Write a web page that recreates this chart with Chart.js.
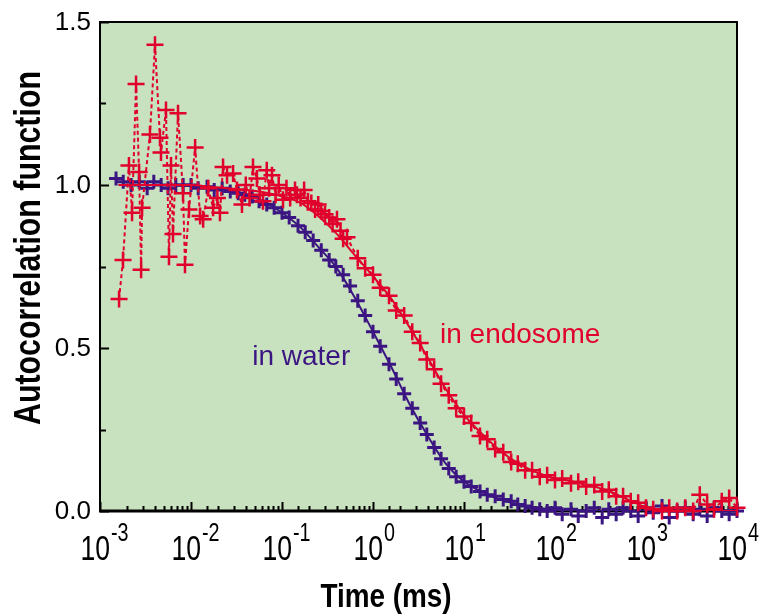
<!DOCTYPE html>
<html>
<head>
<meta charset="utf-8">
<script src="https://cdn.jsdelivr.net/npm/chart.js@4.4.0/dist/chart.umd.min.js"></script>
<style>
  html, body { margin: 0; padding: 0; background: #ffffff; }
  #wrap { width: 777px; height: 614px; }
</style>
</head>
<body>
<div id="wrap"><canvas id="c" width="777" height="614"></canvas></div>
<script>
// lag times (ms) and autocorrelation values
const timesWater = [0.0015, 0.0018, 0.0022, 0.0027, 0.0033, 0.0039, 0.0047, 0.0056, 0.0068, 0.0082,
  0.010, 0.012, 0.015, 0.018, 0.022, 0.027, 0.033, 0.039, 0.047, 0.056, 0.068, 0.082,
  0.10, 0.12, 0.15, 0.18, 0.22, 0.27, 0.33, 0.39, 0.47, 0.56, 0.68, 0.82,
  1.0, 1.2, 1.5, 1.8, 2.2, 2.7, 3.3, 3.9, 4.7, 5.6, 6.8, 8.2,
  10, 12, 15, 18, 22, 27, 33, 39, 47, 56, 68, 82,
  100, 120, 150, 180, 220, 270, 330, 390, 470, 560, 680, 820,
  1000, 1200, 1500, 1800, 2200, 2700, 3300, 3900, 4700, 5600, 6800, 8200, 10000];
const gWater = [1.02, 1.01, 1.00, 1.01, 0.99, 1.01, 1.00, 0.99, 1.00, 1.00,
  1.00, 0.99, 0.995, 0.985, 0.99, 0.98, 0.975, 0.97, 0.965, 0.95, 0.94, 0.93,
  0.915, 0.90, 0.875, 0.855, 0.83, 0.80, 0.77, 0.75, 0.725, 0.69, 0.645, 0.60,
  0.55, 0.505, 0.45, 0.405, 0.36, 0.315, 0.27, 0.235, 0.195, 0.16, 0.13, 0.105,
  0.09, 0.075, 0.06, 0.05, 0.045, 0.035, 0.03, 0.02, 0.015, 0.01, 0.005, 0.0,
  0.01, -0.01, 0.005, -0.015, 0.0, 0.01, -0.02, 0.005, -0.01, 0.01, 0.0, -0.015,
  0.01, -0.005, 0.015, -0.02, 0.0, 0.01, -0.01, 0.005, -0.015, 0.01, 0.0, -0.01, 0.0];

const timesEndo = [0.00162, 0.00179, 0.00208, 0.00225, 0.00249, 0.00269, 0.00283, 0.0029, 0.00354, 0.00402,
  0.00456, 0.00468, 0.00531, 0.00573, 0.00603, 0.00634, 0.0072, 0.00817, 0.00859, 0.0095,
  0.0111, 0.0126, 0.0136, 0.0155, 0.0175, 0.0195, 0.0208, 0.0225, 0.0249, 0.029,
  0.032, 0.0363, 0.040, 0.044, 0.048, 0.053, 0.057, 0.0618, 0.068, 0.072,
  0.0776, 0.085, 0.092, 0.1026, 0.112, 0.123, 0.139, 0.146, 0.16, 0.175,
  0.193, 0.21, 0.231, 0.25, 0.27, 0.297, 0.33, 0.36, 0.402, 0.44, 0.47, 0.518,
  0.68, 0.82, 1.0, 1.2, 1.5, 1.8, 2.2, 2.7, 3.3, 3.9, 4.7, 5.6, 6.8, 8.2,
  10, 12, 15, 18, 22, 27, 33, 39, 47, 56, 68, 82,
  100, 120, 150, 180, 220, 270, 330, 390, 470, 560, 680, 820,
  1000, 1200, 1500, 1800, 2200, 2700, 3300, 3900, 4700, 5600, 6800, 8200, 10000];
const gEndo = [0.65, 0.77, 1.06, 0.915, 1.31, 1.04, 0.74, 0.93, 1.155, 1.43,
  1.145, 1.10, 1.23, 0.78, 1.06, 0.85, 1.22, 0.975, 0.755, 0.925,
  1.115, 0.905, 0.895, 0.99, 0.93, 0.96, 0.915, 1.055, 1.03, 1.035,
  0.985, 0.94, 1.00, 0.96, 1.055, 1.02, 0.97, 0.95, 1.045, 0.99,
  1.03, 0.97, 1.00, 0.955, 0.99, 0.96, 0.985, 0.97, 0.96, 0.985,
  0.95, 0.945, 0.925, 0.94, 0.92, 0.91, 0.90, 0.88, 0.895, 0.86, 0.835, 0.84,
  0.775, 0.745, 0.725, 0.685, 0.66, 0.615, 0.60, 0.55, 0.515, 0.465, 0.435, 0.39, 0.355, 0.315,
  0.29, 0.27, 0.23, 0.22, 0.19, 0.18, 0.15, 0.145, 0.125, 0.125, 0.105, 0.11,
  0.095, 0.10, 0.085, 0.09, 0.075, 0.08, 0.06, 0.065, 0.045, 0.045, 0.03, 0.025,
  0.01, 0.005, 0.0, 0.01, 0.0, 0.01, 0.0, 0.05, 0.02, 0.005, 0.03, 0.04, 0.01];

// fitted curves
const fitTimes = [0.0016, 0.0025, 0.004, 0.0063, 0.01, 0.016, 0.025, 0.04, 0.063, 0.1,
  0.16, 0.25, 0.4, 0.63, 1, 1.6, 2.5, 4, 6.3, 10,
  16, 25, 40, 63, 100, 160, 250, 400, 630, 1000,
  1600, 2500, 4000, 6300, 10000];
const fitWater = [1.0, 1.0, 1.0, 1.0, 0.997, 0.993, 0.985, 0.972, 0.95, 0.915,
  0.87, 0.81, 0.745, 0.655, 0.55, 0.44, 0.33, 0.23, 0.145, 0.09,
  0.058, 0.035, 0.02, 0.01, 0.004, 0.002, 0, 0, 0, 0,
  0, 0, 0, 0, 0];
const fitEndo = [1.0, 1.0, 1.0, 1.0, 1.0, 0.995, 0.99, 0.985, 0.978, 0.965,
  0.945, 0.905, 0.85, 0.785, 0.72, 0.65, 0.565, 0.47, 0.375, 0.295,
  0.235, 0.185, 0.145, 0.118, 0.10, 0.09, 0.077, 0.06, 0.035, 0.012,
  0.004, 0, 0, 0, 0];

// axis ranges
const xMin = 0.001, xMax = 10000;
const yMin = 0, yMax = 1.5, yStep = 0.25;

const PURPLE = '#3b1581';
const RED = '#e1002c';
const BG = '#c8e2bf';
const FONT = '"Liberation Sans", Arial, Helvetica, sans-serif';

// text notes placed at data coordinates
const notes = [
  { text: 'in water', t: 0.047, g: 0.448, color: PURPLE },
  { text: 'in endosome', t: 5.45, g: 0.515, color: RED }
];

function pts(xs, ys) {
  return xs.map((x, i) => ({ x: x, y: ys[i] }));
}

// texte étroit (police type Helvetica Narrow)
function narrowText(ctx, text, x, y, font, sx, align, baseline, rot) {
  ctx.save();
  ctx.translate(x, y);
  if (rot) ctx.rotate(rot);
  ctx.scale(sx, 1);
  ctx.font = font;
  ctx.textAlign = align;
  ctx.textBaseline = baseline;
  ctx.fillText(text, 0, 0);
  ctx.restore();
}

const framePlugin = {
  id: 'frame',
  beforeDraw(chart) {
    const { ctx, chartArea: a } = chart;
    ctx.save();
    ctx.fillStyle = BG;
    ctx.fillRect(a.left, a.top, a.right - a.left, a.bottom - a.top);
    ctx.restore();
  },
  beforeDatasetsDraw(chart) {
    const { ctx, chartArea: a } = chart;
    const xs = chart.scales.x, ys = chart.scales.y;
    ctx.save();
    ctx.strokeStyle = '#000';
    ctx.lineWidth = 2;
    ctx.beginPath();
    // ticks en bas (vers l'intérieur)
    xs.ticks.forEach(t => {
      const lg = Math.log10(t.value);
      const major = Math.abs(lg - Math.round(lg)) < 1e-6;
      const px = Math.round(xs.getPixelForValue(t.value)) + 0.5;
      ctx.moveTo(px, a.bottom);
      ctx.lineTo(px, a.bottom - (major ? 9 : 5));
    });
    // ticks à gauche
    ys.ticks.forEach(t => {
      const major = Math.abs(t.value * 2 - Math.round(t.value * 2)) < 1e-6;
      const py = Math.round(ys.getPixelForValue(t.value)) + 0.5;
      ctx.moveTo(a.left, py);
      ctx.lineTo(a.left + (major ? 9 : 6), py);
    });
    ctx.stroke();
    ctx.strokeRect(a.left, a.top, a.right - a.left, a.bottom - a.top);
    ctx.lineWidth = 3;
    ctx.beginPath();
    ctx.moveTo(a.left - 1, a.bottom);
    ctx.lineTo(a.right + 1, a.bottom);
    ctx.stroke();
    ctx.restore();
  },
  afterDraw(chart) {
    const { ctx, chartArea: a } = chart;
    const xs = chart.scales.x, ys = chart.scales.y;
    ctx.save();
    ctx.fillStyle = '#000';
    // y labels
    ys.ticks.forEach(t => {
      if (Math.abs(t.value * 2 - Math.round(t.value * 2)) > 1e-6) return;
      const py = ys.getPixelForValue(t.value);
      narrowText(ctx, t.value.toFixed(1), a.left - 9, py + 1, '26px ' + FONT, 1, 'right', 'middle');
    });
    // x labels 10^n
    xs.ticks.forEach(t => {
      const lg = Math.log10(t.value);
      if (Math.abs(lg - Math.round(lg)) > 1e-6) return;
      const px = xs.getPixelForValue(t.value);
      narrowText(ctx, '10', px + 10, a.bottom + 49, '35px ' + FONT, 0.76, 'right', 'alphabetic');
      narrowText(ctx, String(Math.round(lg)), px + 11, a.bottom + 30, '26px ' + FONT, 0.76, 'left', 'alphabetic');
    });
    // titres des axes
    narrowText(ctx, 'Time (ms)', 386, 598, 'bold 34px ' + FONT, 0.82, 'center', 'middle');
    narrowText(ctx, 'Autocorrelation function', 30, 248, 'bold 37px ' + FONT, 0.82, 'center', 'middle', -Math.PI / 2);
    // annotations
    notes.forEach(n => {
      ctx.font = '28px ' + FONT;
      ctx.fillStyle = n.color;
      ctx.textAlign = 'left';
      ctx.textBaseline = 'alphabetic';
      ctx.fillText(n.text, xs.getPixelForValue(n.t), ys.getPixelForValue(n.g));
    });
    ctx.restore();
  }
};

new Chart(document.getElementById('c'), {
  type: 'scatter',
  data: {
    datasets: [
      {
        label: 'in endosome (fit)',
        data: pts(fitTimes, fitEndo),
        showLine: true,
        borderColor: RED,
        borderWidth: 2,
        pointRadius: 0,
        cubicInterpolationMode: 'monotone',
        order: 0
      },
      {
        label: 'in endosome',
        data: pts(timesEndo, gEndo),
        showLine: true,
        borderColor: RED,
        borderWidth: 2,
        borderDash: [4, 3],
        pointStyle: 'cross',
        pointRadius: 8.5,
        pointBorderWidth: 2.5,
        pointBorderColor: RED,
        clip: false,
        order: 1
      },
      {
        label: 'in water (fit)',
        data: pts(fitTimes, fitWater),
        showLine: true,
        borderColor: PURPLE,
        borderWidth: 2,
        pointRadius: 0,
        cubicInterpolationMode: 'monotone',
        order: 2
      },
      {
        label: 'in water',
        data: pts(timesWater, gWater),
        showLine: false,
        pointStyle: 'cross',
        pointRadius: 7,
        pointBorderWidth: 3,
        pointBorderColor: PURPLE,
        clip: false,
        order: 3
      }
    ]
  },
  options: {
    responsive: false,
    animation: false,
    events: [],
    layout: { padding: { left: 100, right: 40, top: 22, bottom: 103 } },
    plugins: { legend: { display: false }, tooltip: { enabled: false } },
    scales: {
      x: {
        type: 'logarithmic',
        min: xMin,
        max: xMax,
        grid: { display: false },
        border: { display: false },
        ticks: { display: false },
        afterFit: s => { s.height = 0; }
      },
      y: {
        type: 'linear',
        min: yMin,
        max: yMax,
        grid: { display: false },
        border: { display: false },
        ticks: { display: false, stepSize: yStep },
        afterFit: s => { s.width = 0; }
      }
    }
  },
  plugins: [framePlugin]
});
</script>
</body>
</html>
